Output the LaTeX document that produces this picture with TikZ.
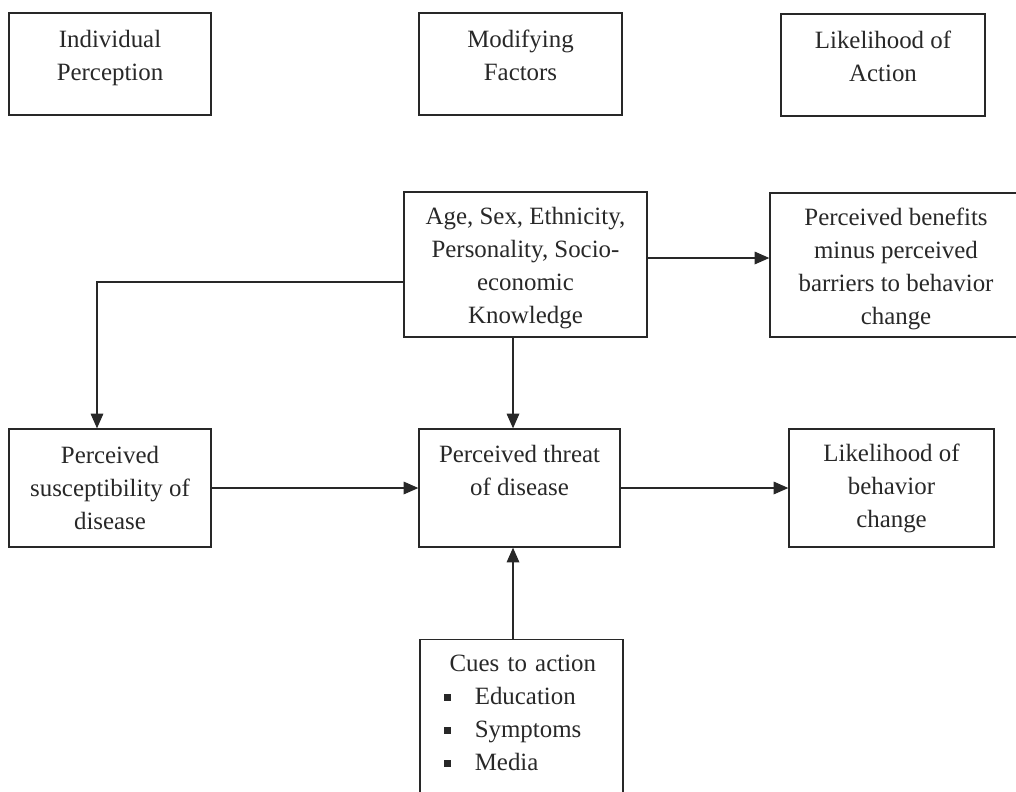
\documentclass[tikz,border=0pt]{standalone}
\usepackage{fontspec}
\setmainfont{Liberation Serif}
\usetikzlibrary{arrows.meta,positioning}

\definecolor{ink}{RGB}{40,40,40}
\newcommand{\boxfont}{\fontsize{17.7pt}{23.5pt}\selectfont}
\newcommand{\lowstrut}[1]{\rule[-#1]{0pt}{0pt}}
\newcommand{\highstrut}[1]{\rule{0pt}{#1}}
\newcommand{\cuebullet}{\raisebox{2.5pt}{\rule{4.8pt}{4.8pt}}}

\tikzset{
  box/.style={draw=ink, line width=0.9pt, text=ink, align=center, inner sep=0pt, font=\boxfont},
  arr/.style={draw=ink, line width=0.9pt, -{Triangle[length=10.5pt,width=9pt]}}
}

\begin{document}
\begin{tikzpicture}[x=0.025cm, y=-0.025cm]
  \useasboundingbox (0,0) rectangle (1016,791);
  \clip (0,0) rectangle (1016,791);
  \fill[white] (0,0) rectangle (1016,791);

  % column headings
  \node[box, minimum width=5.05cm, minimum height=2.55cm] (indiv) at (110,64)
      {Individual\\Perception\lowstrut{12pt}};
  \node[box, minimum width=5.075cm, minimum height=2.55cm] (modif) at (520.5,64)
      {Modifying\\Factors\lowstrut{12pt}};
  \node[box, minimum width=5.1cm, minimum height=2.55cm] (likeact) at (883,65)
      {Likelihood of\\Action\lowstrut{12pt}};

  % modifying factors and benefits
  \node[box, minimum width=6.075cm, minimum height=3.625cm] (age) at (525.5,264.5)
      {\highstrut{17.8pt}Age, Sex, Ethnicity,\\Personality, Socio-\\economic\\Knowledge};
  \node[box, minimum width=6.3cm, minimum height=3.6cm] (benef) at (896,265)
      {\highstrut{17.8pt}Perceived benefits\\minus perceived\\barriers to behavior\\change};

  % middle row
  \node[box, minimum width=5.05cm, minimum height=2.95cm] (suscep) at (110,488)
      {Perceived\\susceptibility of\\disease};
  \node[box, minimum width=5.025cm, minimum height=2.95cm] (threat) at (519.5,488)
      {Perceived threat\\of disease\lowstrut{25pt}};
  \node[box, minimum width=5.125cm, minimum height=2.95cm] (likebeh) at (891.5,488)
      {Likelihood of\\behavior\\change};

  % cues
  \node[box, text width=5.075cm, align=left, anchor=north, inner ysep=10.7pt] (cues) at (521.5,639)
      {\hspace*{21pt}Cues to action\\
       \hspace*{17pt}\makebox[22pt][l]{\cuebullet}Education\\
       \hspace*{17pt}\makebox[22pt][l]{\cuebullet}Symptoms\\
       \hspace*{17pt}\makebox[22pt][l]{\cuebullet}Media\lowstrut{16pt}};

  \coordinate (vline) at (513,0);
  \coordinate (hturn) at (97,282);
  \coordinate (hlink) at (0,258);

  % connectors
  \draw[arr] (age.west |- hturn) -| (suscep.north -| hturn);
  \draw[arr] (age.south -| vline) -- (threat.north -| vline);
  \draw[arr] (age.east |- hlink) -- (benef.west |- hlink);
  \draw[arr] (suscep) -- (threat);
  \draw[arr] (threat) -- (likebeh);
  \draw[arr] (cues.north -| vline) -- (threat.south -| vline);
\end{tikzpicture}
\end{document}
